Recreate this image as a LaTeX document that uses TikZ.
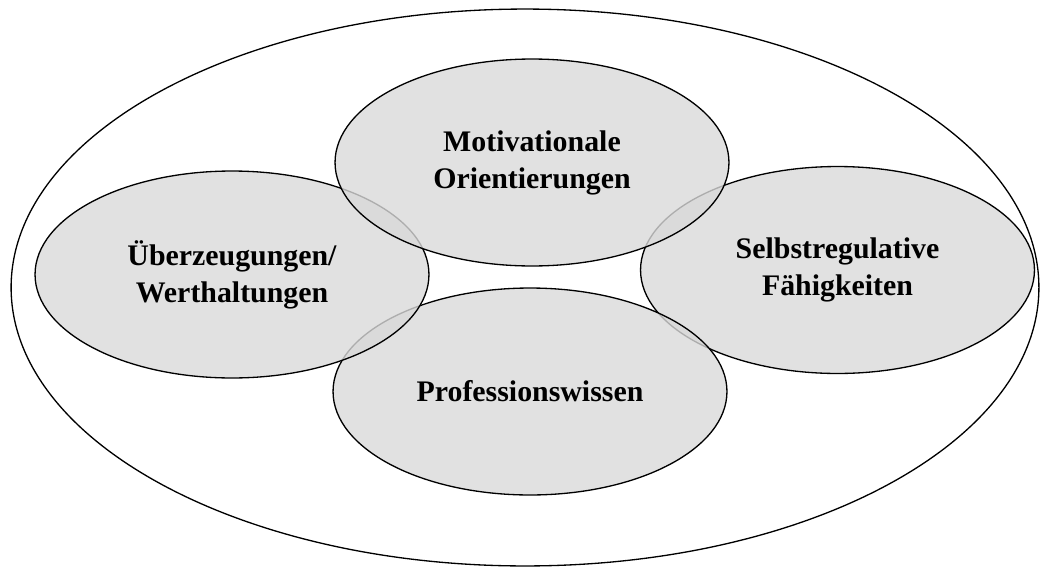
\documentclass[tikz,border=0pt]{standalone}
\usepackage{fontspec}
\setmainfont{Liberation Serif}
\usetikzlibrary{shapes.geometric}
\definecolor{feldgrau}{gray}{0.85}

\begin{document}
\begin{tikzpicture}[x=0.02cm, y=-0.02cm,
  rahmen/.style={ellipse, draw=black, line width=0.75pt, inner sep=0pt},
  bereich/.style={rahmen, fill=feldgrau, fill opacity=0.8, text opacity=1,
    minimum width=7.88cm, minimum height=4.14cm, align=center,
    font=\fontsize{17}{21}\selectfont\bfseries}]
\useasboundingbox (0,0) rectangle (1040,568);

% Aeussere Ellipse
\node[rahmen, minimum width=20.56cm, minimum height=11.14cm] (kompetenz) at (525,287.5) {};

% Bereiche (Reihenfolge wegen Ueberdeckung)
\node[bereich] (selbst) at (837.5,270) {Selbstregulative\\Fähigkeiten};
\node[bereich] (wissen) at (530,391.5) {Professionswissen};
\node[bereich] (ueber) at (232,274.5) {Überzeugungen/\\Werthaltungen};
\node[bereich] (motiv) at (532,162.5) {Motivationale\\Orientierungen};
\end{tikzpicture}
\end{document}
